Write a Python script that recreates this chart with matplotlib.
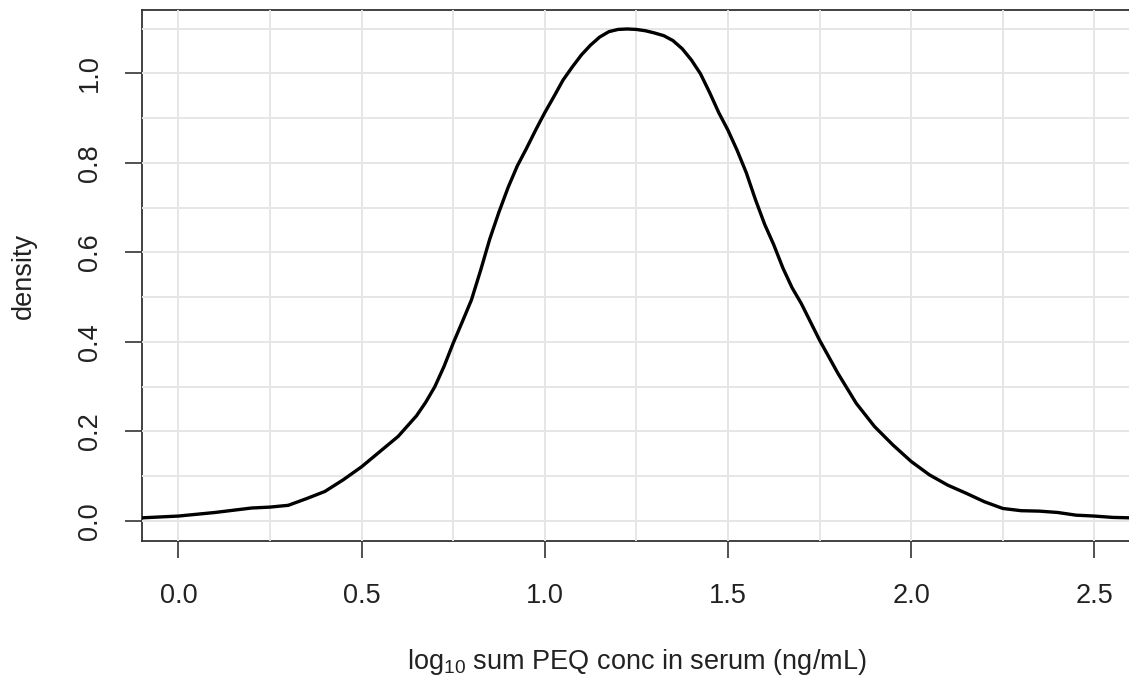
import matplotlib
matplotlib.use("Agg")
import matplotlib.pyplot as plt
from matplotlib.ticker import MultipleLocator

plt.rcParams['font.family'] = ['Liberation Sans', 'DejaVu Sans']
plt.rcParams['mathtext.fontset'] = 'custom'
plt.rcParams['mathtext.rm'] = 'Liberation Sans'
plt.rcParams['mathtext.it'] = 'Liberation Sans'

# log10 concentration values
log_conc = [-0.10, 0.00, 0.10, 0.20, 0.25, 0.30, 0.35, 0.40, 0.45, 0.50,
            0.55, 0.60, 0.65, 0.675, 0.70, 0.725, 0.75, 0.775,
            0.800, 0.825, 0.850, 0.875, 0.900, 0.925, 0.950, 0.975,
            1.000, 1.025, 1.050, 1.075, 1.100, 1.125, 1.150, 1.175,
            1.200, 1.225, 1.250, 1.275, 1.300, 1.325, 1.350, 1.375,
            1.400, 1.425, 1.450, 1.475, 1.500, 1.525, 1.550, 1.575,
            1.600, 1.625, 1.650, 1.675, 1.700,
            1.75, 1.80, 1.85, 1.90, 1.95, 2.00,
            2.05, 2.10, 2.15, 2.20, 2.25, 2.30, 2.35, 2.40, 2.45, 2.50,
            2.55, 2.60]
# density estimates
density = [0.007, 0.011, 0.019, 0.029, 0.031, 0.035, 0.050, 0.066, 0.092, 0.121,
           0.155, 0.189, 0.235, 0.265, 0.300, 0.345, 0.397, 0.445,
           0.494, 0.560, 0.630, 0.690, 0.745, 0.793, 0.832, 0.873,
           0.912, 0.948, 0.985, 1.014, 1.041, 1.063, 1.081, 1.093,
           1.098, 1.099, 1.098, 1.095, 1.090, 1.084, 1.073, 1.055,
           1.030, 0.999, 0.957, 0.912, 0.873, 0.828, 0.778, 0.718,
           0.663, 0.617, 0.565, 0.521, 0.486,
           0.404, 0.330, 0.263, 0.211, 0.170, 0.133,
           0.103, 0.080, 0.062, 0.043, 0.028, 0.023, 0.022, 0.019, 0.013, 0.011,
           0.008, 0.007]

x_ticks = [0.0, 0.5, 1.0, 1.5, 2.0, 2.5]
x_ticklabels = ["0.0", "0.5", "1.0", "1.5", "2.0", "2.5"]
y_ticks = [0.0, 0.2, 0.4, 0.6, 0.8, 1.0]
y_ticklabels = ["0.0", "0.2", "0.4", "0.6", "0.8", "1.0"]

W, H = 1129, 678
fig = plt.figure(figsize=(W / 100, H / 100), dpi=100)
left_px, right_px, top_px, bottom_px = 141.7, 1131.0, 10.0, 541.0
ax = fig.add_axes([left_px / W, 1 - bottom_px / H,
                   (right_px - left_px) / W, (bottom_px - top_px) / H])

ax.plot(log_conc, density, color='black', linewidth=2.4, zorder=3,
        solid_joinstyle='round', solid_capstyle='butt')

ax.set_xlim(-0.1, 2.6)
ax.set_ylim(-0.0447, 1.1414)

ax.set_xticks(x_ticks)
ax.set_xticklabels(x_ticklabels)
ax.set_yticks(y_ticks)
ax.set_yticklabels(y_ticklabels, rotation=90, va='center')
ax.xaxis.set_minor_locator(MultipleLocator(0.25))
ax.yaxis.set_minor_locator(MultipleLocator(0.1))

ax.grid(True, which='both', color='#e6e6e6', linewidth=1.4)
ax.set_axisbelow(True)
for s in ax.spines.values():
    s.set_zorder(0.4)
    s.set_color('#333333')
    s.set_linewidth(1.3)
ax.spines['right'].set_visible(False)

ax.tick_params(axis='both', which='major', length=12.2, width=1.2,
               color='#333333', labelsize=19.5, labelcolor='#222222')
ax.tick_params(axis='x', which='major', pad=18)
ax.tick_params(axis='y', which='major', pad=16)
ax.tick_params(axis='both', which='minor', length=0)

ax.set_xlabel(r'$\mathrm{log}_{10}$ sum PEQ conc in serum (ng/mL)',
              fontsize=19.5, color='#222222', labelpad=27.5)
ax.set_ylabel('density', fontsize=19.5, color='#222222', labelpad=28.5)

fig.savefig('out.png', dpi=100)
